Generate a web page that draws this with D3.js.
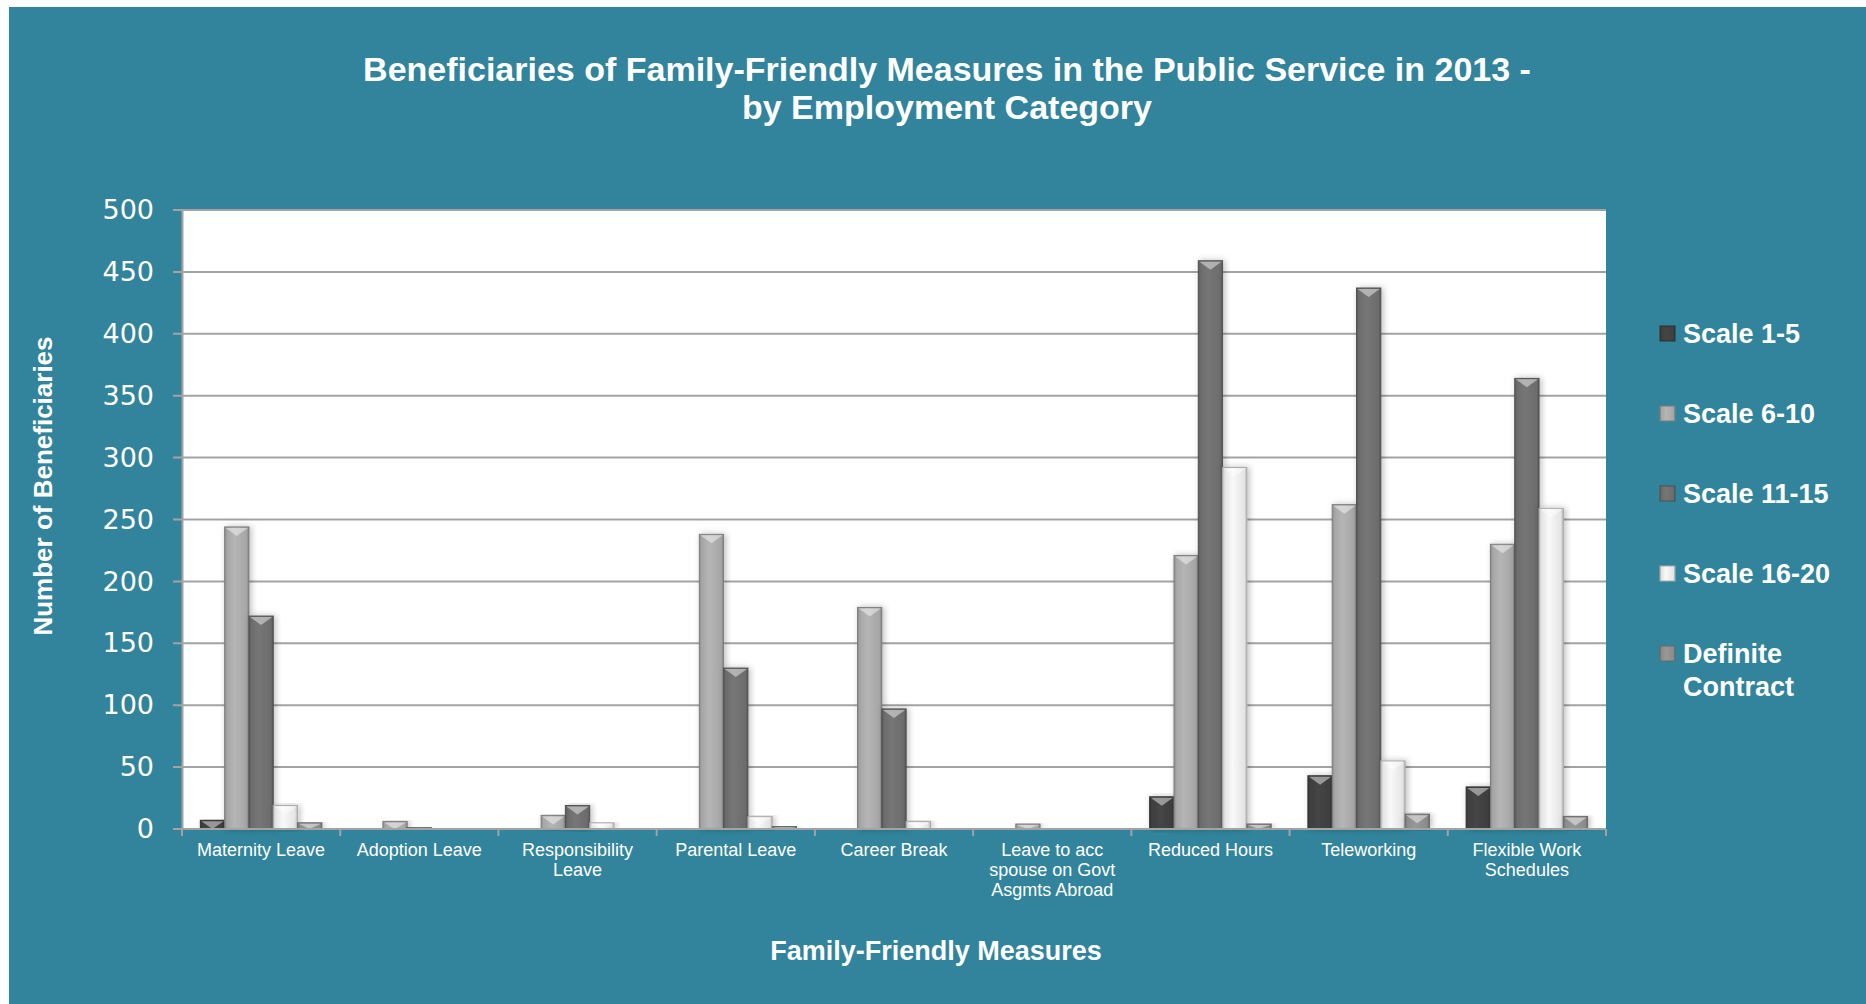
<script src="https://d3js.org/d3.v7.min.js"></script>
<style>
  body{ margin:0; background:white; }
  text{ font-family: "Liberation Sans", Arial, sans-serif; fill: white; }
</style>
<body>
<script>
    var svgWidth = 1866;
    var svgHeight = 1004;

    // data
    var categories = [["Maternity Leave"], ["Adoption Leave"], ["Responsibility", "Leave"], ["Parental Leave"],
        ["Career Break"], ["Leave to acc", "spouse on Govt", "Asgmts Abroad"], ["Reduced Hours"], ["Teleworking"],
        ["Flexible Work", "Schedules"]];
    var seriesNames = ["Scale 1-5", "Scale 6-10", "Scale 11-15", "Scale 16-20", "Definite Contract"];
    var scale1to5 = [7, 0, 0, 0, 0, 0, 26, 43, 34];
    var scale6to10 = [244, 6, 11, 238, 179, 4, 221, 262, 230];
    var scale11to15 = [172, 1, 19, 130, 97, 0, 459, 437, 364];
    var scale16to20 = [19, 0, 5, 10, 6, 0, 292, 55, 259];
    var definiteContract = [5, 0, 0, 2, 0, 0, 4, 12, 10];
    var yTicks = [0, 50, 100, 150, 200, 250, 300, 350, 400, 450, 500];

    var seriesValues = [scale1to5, scale6to10, scale11to15, scale16to20, definiteContract];
    var seriesColors = ["#3f3f3f", "#a6a6a6", "#6c6c6c", "#e4e4e4", "#8b8b8b"];
    var teal = "#31849b";

    var plot = {left: 182, right: 1606, top: 210, bottom: 829};

    var svg = d3.select("body")
        .append("svg")
        .attr("width", svgWidth)
        .attr("height", svgHeight);

    var defs = svg.append("defs");

    // bar gradients, darker at the edges
    seriesColors.forEach(function(c, i){
        var base = d3.color(c);
        var g = defs.append("linearGradient")
            .attr("id", "grad" + i)
            .attr("x1", "0%").attr("x2", "100%")
            .attr("y1", "0%").attr("y2", "0%");
        g.append("stop").attr("offset", "0%").attr("stop-color", base.darker(0.5));
        g.append("stop").attr("offset", "10%").attr("stop-color", base);
        g.append("stop").attr("offset", "40%").attr("stop-color", base.brighter(0.25));
        g.append("stop").attr("offset", "90%").attr("stop-color", base);
        g.append("stop").attr("offset", "100%").attr("stop-color", base.darker(0.7));
    });

    var shadow = defs.append("filter").attr("id", "shadow")
        .attr("x", "-30%").attr("y", "-10%").attr("width", "160%").attr("height", "120%");
    shadow.append("feDropShadow")
        .attr("dx", 2).attr("dy", 0)
        .attr("stdDeviation", 3)
        .attr("flood-color", "black")
        .attr("flood-opacity", 0.25);

    // background
    svg.append("rect")
        .attr("x", 9).attr("y", 7)
        .attr("width", svgWidth - 9).attr("height", svgHeight - 7)
        .style("fill", teal);

    // plot area
    svg.append("rect")
        .attr("x", plot.left).attr("y", plot.top)
        .attr("width", plot.right - plot.left).attr("height", plot.bottom - plot.top)
        .style("fill", "white");

    var x0 = d3.scaleBand()
        .domain(d3.range(categories.length))
        .range([plot.left, plot.right])
        .paddingInner(0.232)
        .paddingOuter(0.116);

    var x1 = d3.scaleBand()
        .domain(d3.range(seriesNames.length))
        .range([0, x0.bandwidth()]);

    var y = d3.scaleLinear()
        .domain([0, 500])
        .range([plot.bottom, plot.top]);

    // gridlines
    svg.append("g")
        .selectAll("line")
        .data(yTicks)
        .enter().append("line")
        .attr("x1", plot.left - 9)
        .attr("x2", plot.right)
        .attr("y1", function(d){ return y(d); })
        .attr("y2", function(d){ return y(d); })
        .attr("stroke", "#a3a3a3")
        .attr("stroke-width", 2);

    // y axis labels
    var yAxis = d3.axisLeft(y).tickValues(yTicks).tickSize(0).tickPadding(28);
    var yg = svg.append("g")
        .attr("transform", "translate(" + plot.left + ",0)")
        .call(yAxis);
    yg.select(".domain").attr("stroke", "#a3a3a3").attr("stroke-width", 2);
    yg.selectAll("text")
        .style("font-family", "'DejaVu Sans', sans-serif")
        .style("font-size", "27px")
        .attr("fill", "white");

    // bars
    var groups = svg.append("g")
        .selectAll("g")
        .data(seriesValues)
        .enter().append("g");

    groups.each(function(vals, si){
        var g = d3.select(this);
        vals.forEach(function(v, ci){
            if (v <= 0) return;
            var bx = x0(ci) + x1(si);
            var bw = x1.bandwidth();
            var by = y(v);
            var bh = plot.bottom - by;
            var bar = g.append("g").attr("filter", "url(#shadow)");
            bar.append("rect")
                .attr("x", bx).attr("y", by)
                .attr("width", bw).attr("height", bh)
                .attr("fill", "url(#grad" + si + ")")
                .attr("stroke", d3.color(seriesColors[si]).darker(0.8))
                .attr("stroke-width", 1);
            var th = Math.min(9, bh);
            bar.append("polygon")
                .attr("points", [[bx + 1, by + 1], [bx + bw - 1, by + 1], [bx + bw / 2, by + th]].join(" "))
                .attr("fill", "white")
                .attr("opacity", 0.45);
        });
    });

    // x axis line and ticks
    svg.append("line")
        .attr("x1", plot.left).attr("x2", plot.right)
        .attr("y1", plot.bottom).attr("y2", plot.bottom)
        .attr("stroke", "#a3a3a3").attr("stroke-width", 2);
    svg.append("g")
        .selectAll("line")
        .data(d3.range(categories.length + 1))
        .enter().append("line")
        .attr("x1", function(d){ return plot.left + d * x0.step(); })
        .attr("x2", function(d){ return plot.left + d * x0.step(); })
        .attr("y1", plot.bottom)
        .attr("y2", plot.bottom + 7)
        .attr("stroke", "#a3a3a3").attr("stroke-width", 2);

    // category labels
    svg.append("g")
        .selectAll("text")
        .data(categories)
        .enter().append("text")
        .attr("text-anchor", "middle")
        .style("font-size", "18px")
        .each(function(lines, i){
            var t = d3.select(this);
            lines.forEach(function(l, k){
                t.append("tspan")
                    .attr("x", x0(i) + x0.bandwidth() / 2)
                    .attr("y", 856 + k * 20)
                    .text(l);
            });
        });

    // titles
    svg.append("text")
        .attr("x", 947).attr("y", 81)
        .attr("text-anchor", "middle")
        .style("font-size", "34px").style("font-weight", "bold")
        .text("Beneficiaries of Family-Friendly Measures in the Public Service in 2013 -");
    svg.append("text")
        .attr("x", 947).attr("y", 119)
        .attr("text-anchor", "middle")
        .style("font-size", "34px").style("font-weight", "bold")
        .text("by Employment Category");

    svg.append("text")
        .attr("x", 936).attr("y", 960)
        .attr("text-anchor", "middle")
        .style("font-size", "27px").style("font-weight", "bold")
        .text("Family-Friendly Measures");

    svg.append("text")
        .attr("transform", "translate(52,486) rotate(-90)")
        .attr("text-anchor", "middle")
        .style("font-size", "26px").style("font-weight", "bold")
        .text("Number of Beneficiaries");

    // legend
    var legendY = [343, 423, 503, 583, 663];
    var legend = svg.append("g")
        .selectAll("g")
        .data(seriesNames)
        .enter().append("g");
    legend.append("rect")
        .attr("x", 1660)
        .attr("y", function(d, i){ return legendY[i] - 17; })
        .attr("width", 15).attr("height", 15)
        .attr("fill", function(d, i){ return "url(#grad" + i + ")"; })
        .attr("stroke", function(d, i){ return d3.color(seriesColors[i]).darker(0.8); });
    legend.append("text")
        .attr("x", 1683)
        .style("font-size", "27px").style("font-weight", "bold")
        .each(function(d, i){
            var words = d === "Definite Contract" ? ["Definite", "Contract"] : [d];
            var t = d3.select(this);
            words.forEach(function(w, k){
                t.append("tspan").attr("x", 1683).attr("y", legendY[i] + k * 33).text(w);
            });
        });
</script>
</body>
